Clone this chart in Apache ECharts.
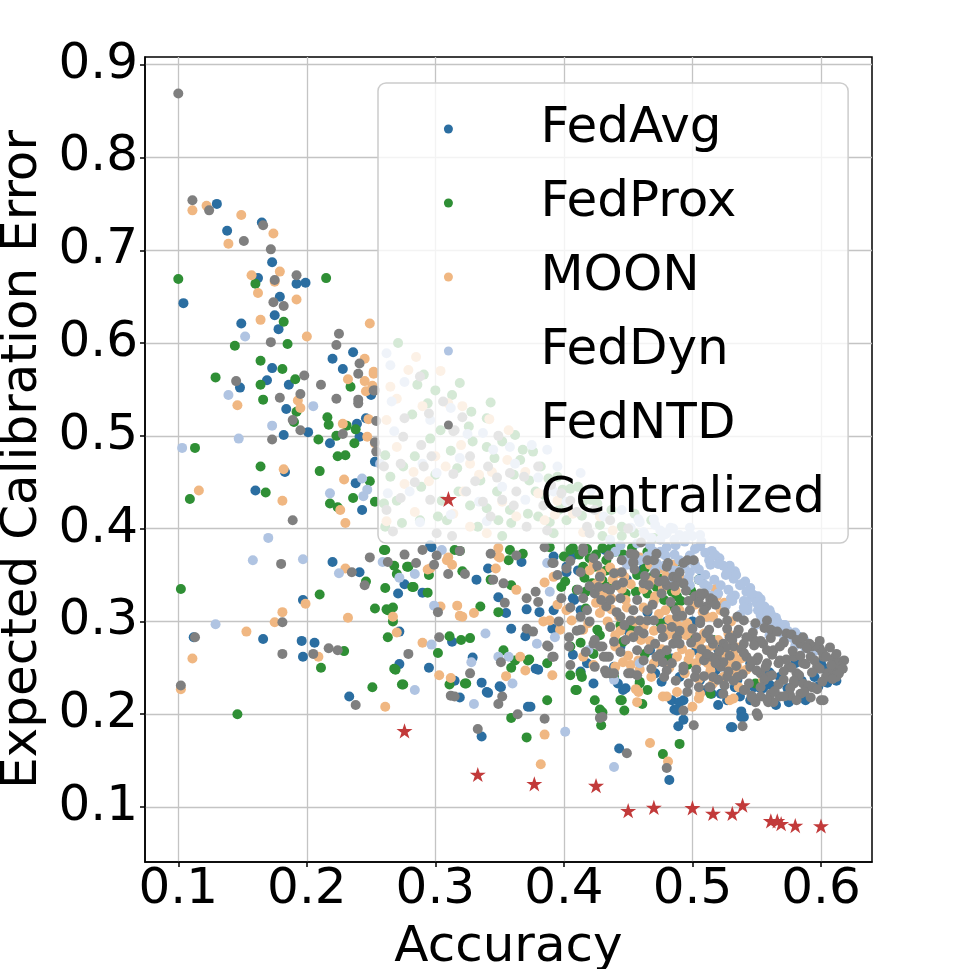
<!DOCTYPE html>
<html>
<head>
<meta charset="utf-8">
<script src="https://cdn.jsdelivr.net/npm/echarts@6/dist/echarts.min.js"></script>
<style>
  html, body { margin: 0; padding: 0; background: #fff; }
  #chart { width: 969px; height: 969px; }
</style>
</head>
<body>
<div id="chart"></div>
<script>
// 数据（从图中读出，[accuracy, ECE]）
const seriesNames = ['FedAvg', 'FedProx', 'MOON', 'FedDyn', 'FedNTD', 'Centralized'];
const xTicks = [0.1, 0.2, 0.3, 0.4, 0.5, 0.6];
const yTicks = [0.1, 0.2, 0.3, 0.4, 0.5, 0.6, 0.7, 0.8, 0.9];

const fedAvg = [
  [0.130,0.750],[0.138,0.721],[0.165,0.730],[0.173,0.687],[0.162,0.670],[0.192,0.664],[0.199,0.665],[0.104,0.643],
  [0.179,0.650],[0.175,0.630],[0.178,0.615],[0.149,0.621],[0.220,0.583],[0.236,0.590],[0.228,0.572],[0.173,0.573],
  [0.148,0.552],[0.169,0.560],[0.186,0.555],[0.250,0.544],[0.184,0.529],[0.201,0.504],[0.182,0.501],[0.239,0.513],
  [0.241,0.499],[0.246,0.519],[0.218,0.492],[0.183,0.461],[0.253,0.472],[0.238,0.449],[0.243,0.420],[0.160,0.441],
  [0.220,0.364],[0.241,0.353],[0.197,0.323],[0.112,0.283],[0.166,0.281],[0.196,0.279],[0.206,0.277],[0.197,0.262],
  [0.233,0.219],[0.272,0.254],[0.272,0.289],[0.271,0.330],[0.276,0.340],[0.290,0.331],[0.297,0.380],[0.313,0.278],
  [0.295,0.250],[0.315,0.236],[0.319,0.218],[0.336,0.176],[0.443,0.163],[0.482,0.129],[0.489,0.187],[0.493,0.194],
  [0.486,0.205],[0.530,0.186],[0.538,0.203],[0.538,0.197],[0.588,0.215],[0.446,0.226],[0.372,0.208],[0.340,0.224],
  [0.336,0.234],[0.350,0.230],[0.378,0.249],[0.329,0.261],[0.332,0.345],[0.341,0.357],[0.371,0.313],[0.381,0.310],
  [0.355,0.309],[0.359,0.292],[0.341,0.223],[0.351,0.229],[0.374,0.208],[0.380,0.248],[0.391,0.292],[0.370,0.284],
  [0.407,0.264],[0.413,0.246],[0.423,0.233],[0.408,0.323],[0.392,0.312],[0.411,0.355],[0.402,0.359],[0.392,0.370],
  [0.367,0.364],[0.349,0.326],[0.296,0.382],[0.439,0.251],[0.418,0.255],[0.402,0.353],[0.407,0.325],[0.406,0.370],
  [0.413,0.312],[0.444,0.273],[0.442,0.233],[0.467,0.269],[0.472,0.256],[0.471,0.244],[0.484,0.260],[0.490,0.240],
  [0.493,0.215],[0.506,0.346],[0.432,0.377],[0.449,0.345],[0.462,0.357],[0.503,0.269],[0.484,0.215],[0.518,0.247],
  [0.511,0.226],[0.583,0.283],[0.572,0.291],[0.555,0.228],[0.548,0.229],[0.533,0.229],[0.537,0.219],[0.575,0.226],
  [0.568,0.240],[0.603,0.249],[0.561,0.267],[0.525,0.255],[0.511,0.258],[0.522,0.222],[0.531,0.186],[0.540,0.197],
  [0.490,0.213],[0.488,0.204],[0.448,0.228],[0.476,0.235],[0.506,0.237],[0.535,0.237],[0.553,0.228],[0.574,0.228],
  [0.545,0.255],[0.560,0.245],[0.580,0.255],[0.595,0.240],[0.520,0.270],[0.465,0.310],[0.450,0.290],[0.430,0.330],
  [0.480,0.300],[0.500,0.300],[0.515,0.222],[0.527,0.215],[0.560,0.232],[0.585,0.236],[0.598,0.230],[0.605,0.234],
  [0.545,0.215],[0.575,0.213],[0.565,0.210],[0.520,0.210],[0.600,0.255],[0.612,0.236]
];

const fedProx = [
  [0.100,0.669],[0.160,0.664],[0.215,0.670],[0.182,0.623],[0.144,0.597],[0.185,0.599],[0.164,0.581],[0.181,0.572],
  [0.129,0.563],[0.164,0.555],[0.166,0.539],[0.191,0.561],[0.234,0.553],[0.190,0.515],[0.192,0.526],[0.216,0.520],
  [0.217,0.512],[0.231,0.511],[0.238,0.507],[0.223,0.500],[0.209,0.496],[0.237,0.492],[0.113,0.487],[0.224,0.478],
  [0.230,0.479],[0.164,0.467],[0.210,0.462],[0.249,0.451],[0.236,0.433],[0.218,0.427],[0.224,0.423],[0.253,0.429],
  [0.168,0.439],[0.109,0.432],[0.246,0.343],[0.102,0.335],[0.210,0.329],[0.229,0.268],[0.211,0.250],[0.146,0.200],
  [0.251,0.229],[0.268,0.249],[0.274,0.232],[0.263,0.283],[0.267,0.300],[0.262,0.313],[0.267,0.315],[0.253,0.314],
  [0.261,0.336],[0.282,0.337],[0.294,0.331],[0.270,0.351],[0.268,0.360],[0.278,0.359],[0.260,0.377],[0.295,0.350],
  [0.319,0.376],[0.321,0.354],[0.311,0.284],[0.320,0.280],[0.302,0.266],[0.311,0.232],[0.323,0.233],[0.371,0.175],
  [0.359,0.196],[0.490,0.168],[0.477,0.157],[0.429,0.188],[0.428,0.205],[0.424,0.215],[0.447,0.204],[0.444,0.215],
  [0.461,0.211],[0.409,0.226],[0.387,0.215],[0.359,0.250],[0.373,0.259],[0.279,0.359],[0.283,0.337],[0.263,0.312],
  [0.327,0.282],[0.269,0.248],[0.275,0.232],[0.324,0.233],[0.359,0.339],[0.349,0.310],[0.335,0.316],[0.343,0.345],
  [0.353,0.269],[0.362,0.258],[0.372,0.258],[0.387,0.255],[0.405,0.242],[0.413,0.244],[0.410,0.226],[0.430,0.202],
  [0.413,0.277],[0.423,0.265],[0.426,0.291],[0.398,0.337],[0.433,0.355],[0.357,0.366],[0.400,0.370],[0.417,0.332],
  [0.405,0.273],[0.439,0.240],[0.407,0.379],[0.420,0.368],[0.430,0.379],[0.424,0.359],[0.440,0.375],[0.453,0.379],
  [0.459,0.366],[0.465,0.375],[0.457,0.350],[0.472,0.337],[0.484,0.332],[0.488,0.327],[0.494,0.343],[0.410,0.334],
  [0.401,0.343],[0.444,0.337],[0.414,0.240],[0.459,0.233],[0.465,0.226],[0.514,0.222],[0.475,0.298],[0.500,0.280],
  [0.485,0.316],[0.452,0.294],[0.524,0.255],[0.516,0.280],[0.549,0.233],[0.459,0.235],[0.445,0.215],[0.489,0.363],
  [0.505,0.345],[0.493,0.341],[0.444,0.296],[0.261,0.377],[0.315,0.377],[0.358,0.377],[0.368,0.373],[0.389,0.380],
  [0.405,0.377],[0.415,0.359],[0.412,0.372],[0.418,0.378],[0.425,0.372],[0.433,0.366],[0.437,0.380],[0.446,0.372],
  [0.450,0.362],[0.456,0.370],[0.463,0.357],[0.470,0.350],[0.476,0.346],[0.481,0.354],[0.416,0.347],[0.422,0.341],
  [0.430,0.344],[0.436,0.338],[0.448,0.330],[0.456,0.332],[0.465,0.330],[0.478,0.323],[0.491,0.322],[0.499,0.333],
  [0.505,0.327],[0.417,0.314],[0.428,0.285],[0.446,0.278],[0.463,0.265],[0.480,0.262],[0.496,0.253],
  [0.271,0.600],[0.291,0.566],[0.286,0.555],[0.319,0.557],[0.300,0.549],[0.313,0.544],[0.343,0.536],[0.328,0.526],
  [0.340,0.519],[0.294,0.535],[0.304,0.506],[0.326,0.510],[0.352,0.494],[0.362,0.501],[0.340,0.488],[0.261,0.479],
  [0.265,0.456],[0.275,0.467],[0.289,0.445],[0.300,0.458],[0.317,0.465],[0.335,0.452],[0.348,0.440],[0.366,0.474],
  [0.376,0.483],[0.382,0.467],[0.378,0.440],[0.327,0.425],[0.340,0.422],[0.358,0.420],[0.372,0.416],[0.260,0.427],
  [0.274,0.406],[0.288,0.409],[0.309,0.409],[0.349,0.409],[0.389,0.407],[0.402,0.409],[0.415,0.429],[0.426,0.427],
  [0.405,0.443],[0.395,0.456],[0.368,0.485],[0.388,0.454],[0.399,0.442],[0.411,0.445],[0.421,0.431],[0.437,0.420],
  [0.396,0.420],[0.380,0.413],[0.359,0.406],[0.333,0.402],[0.302,0.413],[0.261,0.402],[0.455,0.416],[0.468,0.409],
  [0.445,0.402],[0.455,0.395],[0.470,0.390],[0.430,0.392],[0.282,0.523],[0.296,0.497],[0.312,0.484],[0.329,0.494],
  [0.346,0.476],[0.361,0.458],[0.373,0.452],[0.385,0.436],[0.399,0.428],[0.414,0.414],[0.428,0.404],[0.318,0.440],
  [0.305,0.430],[0.284,0.478],[0.270,0.430],[0.352,0.392],[0.392,0.395],[0.445,0.392]
];

const moon = [
  [0.111,0.743],[0.122,0.748],[0.149,0.738],[0.139,0.707],[0.174,0.718],[0.179,0.677],[0.157,0.673],[0.175,0.666],
  [0.162,0.654],[0.192,0.647],[0.164,0.625],[0.200,0.607],[0.249,0.621],[0.245,0.583],[0.252,0.569],[0.146,0.533],
  [0.193,0.538],[0.195,0.530],[0.232,0.561],[0.245,0.559],[0.251,0.554],[0.246,0.548],[0.228,0.513],[0.247,0.499],
  [0.248,0.518],[0.182,0.464],[0.229,0.453],[0.226,0.420],[0.230,0.406],[0.181,0.430],[0.116,0.441],[0.230,0.357],
  [0.199,0.319],[0.181,0.310],[0.175,0.299],[0.232,0.304],[0.153,0.289],[0.209,0.262],[0.111,0.260],[0.102,0.227],
  [0.261,0.208],[0.270,0.288],[0.267,0.305],[0.294,0.356],[0.310,0.369],[0.313,0.361],[0.304,0.316],[0.317,0.317],
  [0.319,0.306],[0.290,0.277],[0.303,0.242],[0.312,0.239],[0.385,0.178],[0.382,0.146],[0.467,0.169],[0.481,0.149],
  [0.456,0.227],[0.457,0.213],[0.391,0.242],[0.355,0.241],[0.321,0.305],[0.330,0.309],[0.347,0.357],[0.349,0.370],
  [0.363,0.334],[0.385,0.342],[0.392,0.348],[0.366,0.262],[0.370,0.247],[0.384,0.300],[0.389,0.301],[0.395,0.318],
  [0.404,0.314],[0.415,0.262],[0.423,0.253],[0.440,0.251],[0.349,0.379],[0.419,0.298],[0.436,0.294],[0.428,0.309],
  [0.415,0.291],[0.458,0.224],[0.477,0.219],[0.488,0.224],[0.500,0.208],[0.452,0.253],[0.468,0.240],[0.406,0.301],
  [0.431,0.316],[0.437,0.325],[0.448,0.323],[0.428,0.346],[0.442,0.352],[0.467,0.361],[0.475,0.357],[0.485,0.361],
  [0.471,0.327],[0.479,0.312],[0.490,0.312],[0.496,0.298],[0.509,0.287],[0.511,0.269],[0.498,0.265],[0.516,0.305],
  [0.503,0.255],[0.514,0.247],[0.402,0.312],[0.397,0.291],[0.420,0.355],[0.425,0.340],[0.432,0.330],[0.438,0.345],
  [0.445,0.335],[0.449,0.315],[0.425,0.320],[0.459,0.369],[0.470,0.365],[0.480,0.350],[0.490,0.348],[0.434,0.300],
  [0.440,0.285],[0.444,0.290],[0.487,0.300],[0.495,0.285],[0.505,0.275],[0.515,0.260],[0.520,0.280],[0.492,0.270],
  [0.480,0.285],[0.470,0.290],[0.460,0.280],[0.446,0.256],[0.459,0.248],[0.519,0.327],[0.522,0.312],[0.511,0.305],
  [0.529,0.283],[0.532,0.265],[0.535,0.251],[0.525,0.269],[0.536,0.229],[0.532,0.217],[0.555,0.237],[0.506,0.222],
  [0.528,0.287],[0.531,0.273],[0.531,0.258],[0.532,0.244],[0.529,0.215],[0.505,0.217],[0.480,0.219],[0.497,0.294],
  [0.502,0.276],[0.506,0.262],[0.296,0.357],[0.350,0.369],[0.309,0.366],[0.423,0.362],[0.429,0.352],[0.436,0.358],
  [0.447,0.348],[0.452,0.340],[0.462,0.335],[0.468,0.344],[0.477,0.336],[0.487,0.333],[0.426,0.331],[0.437,0.313],
  [0.443,0.305],[0.455,0.300],[0.462,0.295],[0.474,0.308],[0.482,0.302],[0.491,0.294],[0.499,0.290],[0.507,0.281],
  [0.516,0.274],[0.522,0.262],[0.527,0.252],[0.512,0.255],[0.497,0.259],[0.488,0.262],[0.476,0.270],[0.467,0.279],
  [0.452,0.285],[0.440,0.273],[0.450,0.263],[0.458,0.258],[0.470,0.255],[0.482,0.250],[0.494,0.244],[0.505,0.238],
  [0.516,0.233],[0.524,0.240],[0.530,0.300],[0.525,0.320],[0.518,0.335],[0.508,0.310],[0.502,0.318],[0.462,0.315],
  [0.470,0.322],[0.478,0.292],[0.486,0.285],[0.538,0.260],[0.542,0.248],[0.535,0.272],
  [0.252,0.567],[0.279,0.571],[0.304,0.570],[0.265,0.553],[0.310,0.535],[0.321,0.532],[0.262,0.517],[0.357,0.506],
  [0.253,0.492],[0.270,0.488],[0.283,0.461],[0.308,0.467],[0.327,0.470],[0.344,0.461],[0.334,0.458],[0.295,0.451],
  [0.352,0.429],[0.380,0.438],[0.284,0.418],[0.314,0.416],[0.363,0.413],[0.385,0.409],[0.407,0.416],[0.428,0.413],
  [0.327,0.402],[0.285,0.585],[0.270,0.540],[0.395,0.430],[0.340,0.395],[0.290,0.532],[0.342,0.518],[0.320,0.490],
  [0.300,0.478],[0.356,0.474],[0.370,0.461],[0.393,0.415],[0.415,0.396],[0.438,0.398],[0.276,0.448],[0.262,0.408],
  [0.322,0.440]
];

const fedDyn = [
  [0.152,0.607],[0.139,0.544],[0.205,0.532],[0.173,0.511],[0.147,0.497],[0.103,0.487],[0.243,0.454],[0.247,0.442],
  [0.244,0.435],[0.218,0.438],[0.170,0.390],[0.158,0.366],[0.197,0.367],[0.225,0.352],[0.259,0.364],[0.272,0.347],
  [0.284,0.351],[0.305,0.377],[0.299,0.317],[0.297,0.275],[0.129,0.297],[0.284,0.226],[0.401,0.181],[0.439,0.143],
  [0.330,0.211],[0.360,0.233],[0.357,0.262],[0.339,0.287],[0.328,0.256],[0.349,0.262],[0.389,0.332],[0.387,0.363],
  [0.379,0.276],[0.393,0.283],[0.419,0.269],[0.459,0.255],[0.439,0.237],[0.440,0.375],[0.475,0.375],[0.449,0.361],
  [0.498,0.353],[0.477,0.373],
  [0.475,0.398],[0.490,0.393],[0.506,0.381],[0.518,0.371],[0.529,0.360],[0.541,0.343],[0.551,0.327],[0.560,0.312],
  [0.570,0.296],[0.578,0.286],[0.467,0.382],[0.479,0.371],[0.490,0.366],[0.502,0.361],[0.510,0.350],[0.522,0.339],
  [0.533,0.328],[0.543,0.317],[0.553,0.307],[0.562,0.296],[0.572,0.285],[0.459,0.366],[0.471,0.355],[0.483,0.344],
  [0.498,0.339],[0.514,0.328],[0.526,0.317],[0.537,0.307],[0.549,0.296],[0.560,0.285],[0.498,0.371],[0.514,0.361],
  [0.526,0.350],[0.537,0.339],[0.546,0.326],[0.557,0.312],[0.566,0.300],[0.584,0.280],[0.588,0.271],[0.580,0.274],
  [0.487,0.382],[0.475,0.388],[0.463,0.393],[0.452,0.401],[0.459,0.407],[0.471,0.404],[0.483,0.401],[0.498,0.401],
  [0.506,0.393],[0.521,0.368],[0.533,0.354],[0.545,0.336],[0.553,0.324],[0.515,0.376],[0.444,0.382],[0.448,0.366],
  [0.436,0.388],[0.462,0.396],[0.468,0.390],[0.479,0.394],[0.486,0.388],[0.494,0.386],[0.502,0.378],[0.510,0.374],
  [0.513,0.366],[0.520,0.362],[0.527,0.353],[0.532,0.346],[0.538,0.340],[0.542,0.332],[0.548,0.328],[0.550,0.320],
  [0.556,0.316],[0.558,0.306],[0.565,0.304],[0.567,0.292],[0.574,0.290],[0.578,0.282],[0.583,0.282],[0.590,0.276],
  [0.593,0.270],[0.486,0.372],[0.494,0.360],[0.505,0.356],[0.517,0.345],[0.528,0.334],[0.540,0.322],[0.551,0.312],
  [0.562,0.300],[0.570,0.287],[0.480,0.380],[0.469,0.376],[0.457,0.384],[0.472,0.363],[0.485,0.355],[0.497,0.347],
  [0.509,0.340],[0.520,0.330],[0.531,0.322],[0.543,0.312],[0.554,0.302],[0.500,0.392],[0.507,0.386],[0.517,0.372],
  [0.524,0.360],[0.534,0.350],[0.546,0.330],[0.553,0.318],[0.561,0.308],[0.572,0.296],[0.580,0.288],[0.587,0.280],
  [0.598,0.270],[0.505,0.345],[0.512,0.338],[0.530,0.325],[0.540,0.315],[0.558,0.298],[0.566,0.292],[0.575,0.284],
  [0.585,0.277],[0.595,0.268],[0.490,0.355],[0.478,0.360],[0.465,0.370],
  [0.262,0.589],[0.265,0.576],[0.266,0.537],[0.296,0.517],[0.337,0.503],[0.358,0.488],[0.375,0.490],[0.387,0.485],
  [0.395,0.467],[0.257,0.470],[0.280,0.440],[0.263,0.438],[0.319,0.476],[0.301,0.460],[0.334,0.429],[0.370,0.431],
  [0.288,0.407],[0.413,0.460],[0.402,0.429],[0.431,0.413],[0.312,0.415],[0.470,0.410],[0.485,0.400],[0.480,0.395],
  [0.495,0.392],[0.276,0.558],[0.312,0.530],[0.325,0.502],[0.345,0.485],[0.362,0.470],[0.380,0.455],[0.392,0.440],
  [0.421,0.441],[0.445,0.420],[0.458,0.410],[0.268,0.505],[0.290,0.470],[0.352,0.445],[0.340,0.408]
];

const fedNtd = [
  [0.100,0.869],[0.111,0.754],[0.124,0.743],[0.151,0.710],[0.166,0.727],[0.172,0.701],[0.175,0.668],[0.192,0.673],
  [0.174,0.644],[0.182,0.640],[0.172,0.601],[0.225,0.610],[0.223,0.598],[0.241,0.578],[0.240,0.567],[0.145,0.559],
  [0.198,0.565],[0.211,0.555],[0.179,0.541],[0.195,0.545],[0.223,0.540],[0.240,0.539],[0.240,0.535],[0.253,0.549],
  [0.189,0.517],[0.195,0.506],[0.173,0.496],[0.228,0.502],[0.254,0.516],[0.253,0.493],[0.189,0.409],[0.180,0.362],
  [0.235,0.353],[0.245,0.339],[0.181,0.299],[0.113,0.283],[0.181,0.265],[0.205,0.265],[0.217,0.271],[0.224,0.269],
  [0.102,0.231],[0.238,0.210],[0.279,0.265],[0.263,0.364],[0.285,0.363],[0.276,0.372],[0.249,0.369],[0.290,0.377],
  [0.301,0.371],[0.299,0.361],[0.310,0.351],[0.319,0.376],[0.323,0.351],[0.302,0.310],[0.303,0.283],[0.312,0.220],
  [0.315,0.219],[0.333,0.184],[0.385,0.195],[0.364,0.200],[0.449,0.158],[0.480,0.142],[0.501,0.188],[0.539,0.187],
  [0.551,0.198],[0.600,0.215],[0.593,0.229],[0.428,0.196],[0.349,0.211],[0.327,0.244],[0.351,0.256],[0.352,0.219],
  [0.345,0.345],[0.353,0.341],[0.343,0.373],[0.354,0.320],[0.363,0.371],[0.371,0.325],[0.378,0.332],[0.380,0.321],
  [0.392,0.363],[0.402,0.357],[0.415,0.375],[0.413,0.353],[0.371,0.292],[0.376,0.289],[0.404,0.283],[0.387,0.274],
  [0.392,0.262],[0.405,0.253],[0.413,0.305],[0.424,0.330],[0.413,0.291],[0.423,0.276],[0.430,0.273],[0.435,0.262],
  [0.433,0.244],[0.430,0.197],[0.385,0.380],[0.391,0.363],[0.415,0.379],[0.411,0.334],[0.415,0.325],[0.418,0.312],
  [0.428,0.348],[0.427,0.337],[0.436,0.334],[0.441,0.339],[0.433,0.316],[0.444,0.325],[0.445,0.353],[0.452,0.373],
  [0.454,0.363],[0.462,0.341],[0.466,0.339],[0.474,0.343],[0.480,0.339],[0.485,0.348],[0.490,0.353],[0.493,0.363],
  [0.481,0.363],[0.472,0.373],[0.454,0.312],[0.444,0.305],[0.436,0.294],[0.452,0.301],[0.459,0.301],[0.465,0.312],
  [0.462,0.287],[0.448,0.280],[0.439,0.278],[0.424,0.280],[0.428,0.273],[0.433,0.262],[0.424,0.251],[0.417,0.267],
  [0.404,0.273],[0.391,0.262],[0.388,0.273],[0.396,0.300],[0.471,0.276],[0.475,0.265],[0.477,0.256],[0.480,0.247],
  [0.485,0.276],[0.490,0.276],[0.493,0.247],[0.497,0.233],[0.496,0.224],[0.502,0.240],[0.509,0.258],[0.514,0.262],
  [0.516,0.276],[0.511,0.287],[0.506,0.298],[0.503,0.283],[0.511,0.316],[0.509,0.330],[0.514,0.325],[0.502,0.327],
  [0.498,0.312],[0.488,0.305],[0.484,0.294],[0.477,0.283],[0.470,0.301],[0.452,0.244],[0.457,0.242],[0.436,0.244],
  [0.457,0.269],[0.444,0.267],[0.465,0.366],[0.435,0.371],[0.423,0.368],[0.501,0.366],
  [0.506,0.327],[0.514,0.323],[0.509,0.312],[0.506,0.301],[0.513,0.291],[0.527,0.301],[0.535,0.305],[0.540,0.301],
  [0.549,0.298],[0.558,0.301],[0.561,0.291],[0.573,0.287],[0.571,0.278],
  [0.584,0.276],[0.593,0.273],[0.599,0.271],[0.602,0.262],[0.610,0.260],[0.614,0.256],[0.610,0.247],[0.612,0.240],
  [0.605,0.244],[0.597,0.251],[0.592,0.262],[0.586,0.255],[0.579,0.262],[0.581,0.244],[0.575,0.251],[0.568,0.258],
  [0.563,0.269],[0.555,0.276],[0.548,0.280],[0.540,0.276],[0.535,0.287],[0.532,0.273],[0.542,0.262],[0.550,0.258],
  [0.558,0.255],[0.545,0.251],[0.553,0.244],[0.562,0.242],[0.571,0.237],[0.579,0.233],[0.586,0.233],[0.594,0.229],
  [0.584,0.222],[0.576,0.220],[0.568,0.219],[0.561,0.222],[0.553,0.219],[0.546,0.220],[0.549,0.213],[0.559,0.213],
  [0.540,0.226],[0.535,0.240],[0.527,0.240],[0.522,0.251],[0.516,0.240],[0.513,0.229],[0.524,0.222],[0.511,0.265],
  [0.519,0.262],[0.524,0.276],[0.529,0.283],[0.618,0.258],[0.615,0.251],[0.550,0.201],
  [0.563,0.213],[0.573,0.220],[0.602,0.215],[0.597,0.273],[0.614,0.244],[0.496,0.366],
  [0.506,0.330],[0.516,0.323],[0.493,0.341],[0.488,0.346],[0.480,0.359],[0.470,0.366],[0.454,0.364],[0.439,0.352],
  [0.433,0.336],[0.436,0.323],[0.465,0.301],[0.476,0.292],[0.487,0.312],[0.488,0.283],[0.480,0.269],[0.472,0.262],
  [0.484,0.255],[0.493,0.251],[0.514,0.229],[0.520,0.237],[0.493,0.204],[0.454,0.283],[0.431,0.262],[0.432,0.247],
  [0.439,0.244],[0.450,0.244],
  [0.536,0.291],[0.547,0.288],[0.556,0.293],[0.566,0.289],[0.577,0.286],[0.586,0.283],[0.531,0.280],[0.542,0.283],
  [0.553,0.279],[0.561,0.282],[0.571,0.277],[0.581,0.280],[0.591,0.276],[0.599,0.279],[0.526,0.272],[0.538,0.270],
  [0.548,0.274],[0.558,0.269],[0.568,0.273],[0.578,0.268],[0.589,0.271],[0.601,0.267],[0.607,0.272],[0.529,0.263],
  [0.540,0.266],[0.551,0.261],[0.562,0.264],[0.573,0.259],[0.584,0.263],[0.595,0.258],[0.604,0.262],[0.612,0.265],
  [0.524,0.256],[0.534,0.252],[0.546,0.257],[0.557,0.251],[0.567,0.255],[0.577,0.250],[0.588,0.254],[0.599,0.249],
  [0.608,0.253],[0.617,0.249],[0.528,0.246],[0.539,0.243],[0.550,0.247],[0.560,0.241],[0.571,0.246],[0.583,0.242],
  [0.593,0.245],[0.604,0.240],[0.613,0.243],[0.532,0.236],[0.544,0.233],[0.556,0.237],[0.567,0.232],[0.579,0.236],
  [0.590,0.231],[0.601,0.235],[0.609,0.238],[0.541,0.226],[0.553,0.229],[0.564,0.225],[0.576,0.228],[0.587,0.224],
  [0.597,0.227],[0.546,0.218],[0.558,0.216],[0.571,0.219],[0.581,0.215],[0.592,0.218],
  [0.455,0.356],[0.463,0.349],[0.471,0.352],[0.478,0.344],[0.486,0.338],[0.495,0.333],[0.518,0.318],
  [0.525,0.310],[0.520,0.298],[0.527,0.292],[0.505,0.320],[0.497,0.322],[0.490,0.290],[0.499,0.277],[0.507,0.270],
  [0.514,0.281],[0.521,0.268],[0.503,0.248],[0.509,0.241],[0.518,0.255],[0.525,0.231],[0.505,0.229],[0.487,0.236],
  [0.478,0.240],[0.468,0.249],[0.462,0.258],[0.466,0.270],[0.458,0.290],[0.447,0.296],[0.441,0.310],[0.429,0.323],
  [0.420,0.338],[0.446,0.342],[0.457,0.323],[0.469,0.318],[0.476,0.330],[0.483,0.321],[0.492,0.306],[0.500,0.292],
  [0.420,0.300],[0.410,0.290],[0.405,0.315],[0.398,0.325],[0.395,0.350],[0.405,0.365],[0.426,0.360],[0.445,0.366],
  [0.455,0.372],
  [0.288,0.564],[0.276,0.519],[0.295,0.524],[0.314,0.505],[0.260,0.467],[0.273,0.470],[0.289,0.490],[0.297,0.478],
  [0.291,0.467],[0.327,0.478],[0.341,0.467],[0.331,0.451],[0.324,0.440],[0.337,0.429],[0.296,0.431],[0.273,0.433],
  [0.358,0.460],[0.369,0.456],[0.380,0.467],[0.361,0.425],[0.384,0.425],[0.398,0.438],[0.410,0.418],[0.267,0.397],
  [0.301,0.395],[0.371,0.402],[0.418,0.402],[0.436,0.409],[0.343,0.413],[0.275,0.499],[0.254,0.483],[0.252,0.549],
  [0.315,0.506],[0.450,0.400],[0.460,0.385],[0.420,0.395],[0.306,0.537],[0.321,0.520],[0.349,0.500],[0.348,0.455],
  [0.363,0.440],[0.390,0.447],[0.405,0.430],[0.424,0.420],[0.352,0.431],[0.314,0.459],[0.284,0.450],[0.262,0.420],
  [0.313,0.392],[0.387,0.398]
];

const centralized = [
  [0.276,0.182],[0.333,0.135],[0.377,0.125],[0.425,0.123],[0.450,0.096],[0.470,0.0995],[0.500,0.099],[0.516,0.093],
  [0.531,0.093],[0.539,0.102],[0.561,0.085],[0.566,0.085],[0.569,0.082],[0.580,0.080],[0.600,0.0795]
];

const colors = ['#2b6ea1', '#2f8f35', '#f0b782', '#b0c4e2', '#7f7f7f', '#c23a3a'];
const seriesData = [fedAvg, fedProx, moon, fedDyn, fedNtd, centralized];

const FONT = 'DejaVu Sans';
const starPath = 'path://M0,-10L2.245,-3.09L9.511,-3.09L3.633,1.18L5.878,8.09L0,3.82L-5.878,8.09L-3.633,1.18L-9.511,-3.09L-2.245,-3.09Z';
// 带透明边距的圆点，让图例里圆点比星号小
const dotIcon = 'path://M-8,-8L-8,-8M8,8L8,8M4.5,0A4.5,4.5,0,1,1,-4.5,0A4.5,4.5,0,1,1,4.5,0Z';

const chart = echarts.init(document.getElementById('chart'), null, { renderer: 'canvas' });

const axisCommon = {
  type: 'value',
  nameLocation: 'middle',
  nameTextStyle: { fontFamily: FONT, fontSize: 50, color: '#000' },
  axisLine: { show: true, lineStyle: { color: '#000', width: 1.5 } },
  axisTick: { show: true, length: 5, lineStyle: { color: '#000', width: 1.5 } },
  axisLabel: { fontFamily: FONT, fontSize: 50, color: '#000', formatter: v => v.toFixed(1) },
  splitLine: { show: true, lineStyle: { color: '#c4c4c4', width: 1.3 } }
};

chart.setOption({
  animation: false,
  backgroundColor: '#fff',
  grid: {
    left: 145, right: 97, top: 57, bottom: 107,
    outerBoundsMode: 'none',
    show: true, borderColor: '#000', borderWidth: 1.5, backgroundColor: 'transparent'
  },
  xAxis: Object.assign({}, axisCommon, {
    name: 'Accuracy', nameGap: 61,
    min: 0.0741, max: 0.6397,
    axisTick: Object.assign({}, axisCommon.axisTick, { customValues: xTicks }),
    axisLabel: Object.assign({}, axisCommon.axisLabel, { customValues: xTicks, margin: 3 })
  }),
  yAxis: Object.assign({}, axisCommon, {
    name: 'Expected Calibration Error', nameGap: 80,
    min: 0.0407, max: 0.9083,
    axisTick: Object.assign({}, axisCommon.axisTick, { customValues: yTicks }),
    axisLabel: Object.assign({}, axisCommon.axisLabel, { customValues: yTicks, margin: 7 })
  }),
  legend: {
    data: seriesNames.map((n, i) => ({ name: n, icon: i === 5 ? starPath : dotIcon })),
    orient: 'vertical',
    left: 378, top: 83,
    padding: [18, 23, 16, 62],
    itemWidth: 174, itemHeight: 16, itemGap: 18,
    backgroundColor: 'rgba(255,255,255,0.8)',
    borderColor: '#cccccc', borderWidth: 1.5, borderRadius: 8,
    textStyle: { fontFamily: FONT, fontSize: 50, color: '#000', lineHeight: 56 },
    selectedMode: false,
    z: 10
  },
  series: seriesNames.map((n, i) => ({
    name: n,
    type: 'scatter',
    data: seriesData[i],
    symbol: i === 5 ? starPath : 'circle',
    symbolSize: i === 5 ? 16 : 10,
    symbolKeepAspect: true,
    itemStyle: { color: colors[i], opacity: 1 },
    emphasis: { disabled: true }
  }))
});

window.addEventListener('resize', () => chart.resize());
</script>
</body>
</html>
